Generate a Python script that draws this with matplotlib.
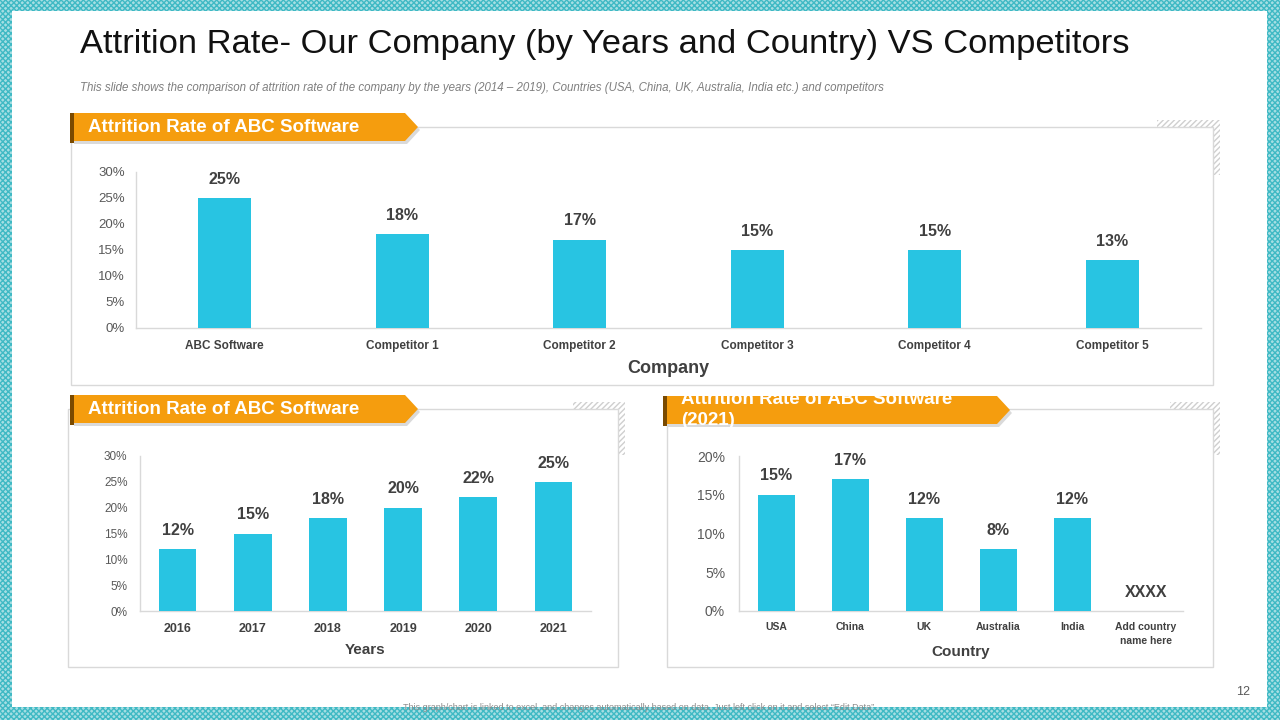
import matplotlib
matplotlib.use("Agg")
import matplotlib.pyplot as plt
import numpy as np
from matplotlib.patches import Rectangle, Polygon
from matplotlib.ticker import FixedLocator, FuncFormatter

plt.rcParams['font.family'] = ['Liberation Sans', 'DejaVu Sans']

# ---------------- data ----------------
companies = ["ABC Software", "Competitor 1", "Competitor 2", "Competitor 3", "Competitor 4", "Competitor 5"]
company_rates = [0.25, 0.18, 0.17, 0.15, 0.15, 0.13]

years = ["2016", "2017", "2018", "2019", "2020", "2021"]
year_rates = [0.12, 0.15, 0.18, 0.20, 0.22, 0.25]

countries = ["USA", "China", "UK", "Australia", "India", "Add country\nname here"]
country_rates = [0.15, 0.17, 0.12, 0.08, 0.12, np.nan]
country_labels = ["15%", "17%", "12%", "8%", "12%", "XXXX"]

yticks_30 = [0, 0.05, 0.10, 0.15, 0.20, 0.25, 0.30]
yticks_20 = [0, 0.05, 0.10, 0.15, 0.20]

BAR = "#28C4E2"
GRID = "#D9D9D9"
TXT = "#595959"
ORANGE = "#F59D0E"

W, H = 1280, 720
fig = plt.figure(figsize=(12.8, 7.2), dpi=100)

def fx(x):
    return x / W

def fy(y):
    return 1 - y / H

def rect_axes(x0, y0, x1, y1):
    return [fx(x0), fy(y1), fx(x1) - fx(x0), fy(y0) - fy(y1)]

# ---------------- background & border ----------------
bg = fig.add_axes([0, 0, 1, 1])
bg.set_xlim(0, W)
bg.set_ylim(H, 0)
bg.axis("off")
bg.add_patch(Rectangle((0, 0), W, H, facecolor="#A6DEE3", edgecolor="#3FB9C4",
                       hatch="xxxxxx", lw=0, zorder=0))
bg.add_patch(Rectangle((12, 11), 1255, 696, facecolor="white", edgecolor="none", zorder=1))

# panel boxes
def panel(x0, y0, x1, y1):
    bg.add_patch(Rectangle((x0, y0), x1 - x0, y1 - y0, facecolor="white",
                           edgecolor=GRID, lw=1.0, zorder=2))

def corner(x0, y0, x1, y1, t=7):
    # L-shaped hatched decoration at top-right
    bg.add_patch(Rectangle((x0, y0), x1 - x0, t, facecolor="none", edgecolor="#CFCFCF",
                           hatch="//////", lw=0, zorder=1.5))
    bg.add_patch(Rectangle((x1 - t, y0 + t), t, y1 - y0 - t, facecolor="none", edgecolor="#CFCFCF",
                           hatch="//////", lw=0, zorder=1.5))

corner(1157, 120, 1220, 175)
corner(573, 402, 625, 455)
corner(1170, 402, 1220, 455)
panel(71, 127, 1213, 385)
panel(68, 409, 618, 667)
panel(667, 409, 1213, 667)

def banner(x0, x1, yc, text, fs=13.5):
    h = 14
    pts = [(x0, yc - h), (x1 - 13, yc - h), (x1, yc), (x1 - 13, yc + h), (x0, yc + h)]
    shadow = Polygon([(p[0] + 2, p[1] + 3) for p in pts], closed=True, facecolor="#DADADA",
                     edgecolor="none", zorder=3)
    bg.add_patch(shadow)
    poly = Polygon(pts, closed=True, facecolor=ORANGE, edgecolor="none", zorder=4)
    bg.add_patch(poly)
    bg.add_patch(Rectangle((x0 - 2, yc - h), 4, 2 * h + 2, facecolor="#7A4A00", edgecolor="none", zorder=4.5))
    t = bg.text(x0 + 16, yc, text, color="white", fontsize=fs, fontweight="bold",
                va="center", ha="left", zorder=5, linespacing=1.3)
    t.set_clip_path(poly)
    return t

banner(72, 418, 127, "Attrition Rate of ABC Software")
banner(72, 418, 409, "Attrition Rate of ABC Software")
banner(665, 1010, 410, "Attrition Rate of ABC Software\n(2021)")

# titles
bg.text(80, 53, "Attrition Rate- Our Company (by Years and Country) VS Competitors",
        fontsize=24.8, color="#111111", va="baseline", ha="left", zorder=5)
bg.text(80, 88, "This slide shows the comparison of attrition rate of the company by the years (2014 \u2013 2019), "
        "Countries (USA, China, UK, Australia, India etc.) and competitors",
        fontsize=8.3, style="italic", color="#7F7F7F", va="center", ha="left", zorder=5)
bg.text(1243, 692, "12", fontsize=9, color="#595959", ha="center", va="center", zorder=5)
bg.text(640, 708, "This graph/chart is linked to excel, and changes automatically based on data. "
        "Just left click on it and select \u201cEdit Data\u201d.",
        fontsize=6.5, color="#8C8C8C", ha="center", va="center", zorder=5)

# ---------------- charts ----------------
def bar_chart(rect, cats, vals, labels, yticks, ymax, width, ytick_fs, xtick_fs,
              lab_fs, ypad, xpad, title, title_fs, title_y):
    ax = fig.add_axes(rect_axes(*rect))
    x = np.arange(len(cats))
    plot_vals = [0 if (v is None or np.isnan(v)) else v for v in vals]
    ax.bar(x, plot_vals, width=width, color=BAR, zorder=3)
    ax.set_xlim(-0.5, len(cats) - 0.5)
    ax.set_ylim(0, ymax)
    ax.yaxis.set_major_locator(FixedLocator(yticks))
    ax.yaxis.set_major_formatter(FuncFormatter(lambda v, p: f"{v * 100:.0f}%"))
    ax.set_xticks(x)
    ax.set_xticklabels(cats, fontsize=xtick_fs, fontweight="bold", color="#404040", linespacing=1.5)
    ax.tick_params(axis="y", length=0, pad=ypad, labelsize=ytick_fs, labelcolor=TXT)
    ax.tick_params(axis="x", length=0, pad=xpad)
    for s in ["top", "right"]:
        ax.spines[s].set_visible(False)
    for s in ["left", "bottom"]:
        ax.spines[s].set_color(GRID)
        ax.spines[s].set_linewidth(1.0)
    ax.set_facecolor("none")
    for xi, v, lab in zip(x, plot_vals, labels):
        ax.annotate(lab, (xi, v), xytext=(0, 13.5), textcoords="offset points",
                    ha="center", va="center", fontsize=lab_fs, fontweight="bold", color="#404040")
    cx = (rect[0] + rect[2]) / 2
    fig.text(fx(cx), fy(title_y), title, fontsize=title_fs, fontweight="bold",
             color="#404040", ha="center", va="center")
    return ax

bar_chart((136, 172, 1201, 328), companies, company_rates,
          [f"{v * 100:.0f}%" for v in company_rates], yticks_30, 0.30, 0.30,
          9.5, 8.5, 11.5, 8, 9, "Company", 13, 369)

bar_chart((140, 456, 591, 611), years, year_rates,
          [f"{v * 100:.0f}%" for v in year_rates], yticks_30, 0.30, 0.50,
          8.5, 9, 11.5, 9, 9, "Years", 11, 650)

bar_chart((739, 456, 1183, 611), countries, country_rates, country_labels,
          yticks_20, 0.20, 0.50, 10, 7.5, 11.5, 10, 8, "Country", 11, 652)

fig.savefig("out.png", dpi=100)
